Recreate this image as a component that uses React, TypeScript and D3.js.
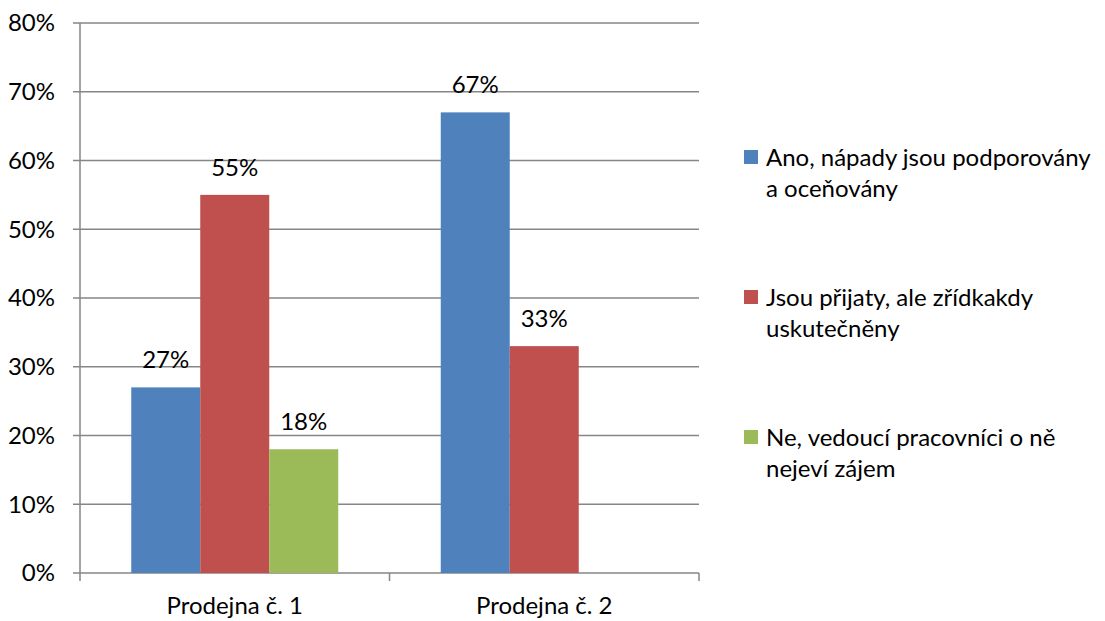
import React from "react";
import * as d3 from "d3";

const categories = ["Prodejna č. 1", "Prodejna č. 2"];
const seriesNames = [
  ["Ano, nápady jsou podporovány", "a oceňovány"],
  ["Jsou přijaty, ale zřídkakdy", "uskutečněny"],
  ["Ne, vedoucí pracovníci o ně", "nejeví zájem"],
];
const seriesColors = ["#4F81BD", "#C0504D", "#9BBB59"];
// values per series, one entry per category (null = no bar)
const seriesValues: (number | null)[][] = [
  [27, 67],
  [55, 33],
  [18, null],
];
const yTicks = [0, 10, 20, 30, 40, 50, 60, 70, 80];

const W = 1105;
const H = 621;
const left = 80;
const right = 699;
const top = 23;
const bottom = 573;
const font = "Lato, 'Open Sans', sans-serif";
const fs = 24;

export default function App() {
  const y = d3.scaleLinear().domain([0, 80]).range([bottom, top]);
  const x = d3.scaleBand().domain(categories).range([left, right]);
  const barW = 69;
  const inner = d3
    .scaleBand()
    .domain(seriesNames.map((_, i) => String(i)))
    .range([0, barW * 3]);

  return (
    <svg width={W} height={H} style={{ position: "absolute", left: 0, top: 0 }}>
      <rect width={W} height={H} fill="#fff" />
      {yTicks.map((t) => (
        <g key={t}>
          <line x1={left - 7} x2={right} y1={y(t)} y2={y(t)} stroke="#868686" strokeWidth={1.5} />
          <text x={left - 25} y={y(t)} dy="0.35em" textAnchor="end" fontFamily={font} fontSize={fs} fill="#000">
            {t}%
          </text>
        </g>
      ))}
      <line x1={left} x2={left} y1={top} y2={bottom} stroke="#868686" strokeWidth={1.5} />
      {[left, ...categories.map((c) => (x(c) as number) + x.bandwidth())].map((px, i) => (
        <line key={i} x1={px} x2={px} y1={bottom} y2={bottom + 8} stroke="#868686" strokeWidth={1.5} />
      ))}
      {categories.map((c, ci) => {
        const cx = (x(c) as number) + x.bandwidth() / 2;
        const start = cx - (barW * 3) / 2;
        return (
          <g key={c}>
            {seriesValues.map((vals, si) => {
              const v = vals[ci];
              if (v == null) return null;
              const bx = start + (inner(String(si)) as number);
              return (
                <g key={si}>
                  <rect x={bx} y={y(v)} width={inner.bandwidth()} height={bottom - y(v)} fill={seriesColors[si]} />
                  <text x={bx + inner.bandwidth() / 2} y={y(v) - 19} textAnchor="middle" fontFamily={font} fontSize={fs} fill="#000">
                    {v}%
                  </text>
                </g>
              );
            })}
            <text x={cx} y={614} textAnchor="middle" fontFamily={font} fontSize={fs} fill="#000">
              {c}
            </text>
          </g>
        );
      })}
      {seriesNames.map((lines, i) => {
        const y0 = 158 + i * 140;
        return (
          <g key={i}>
            <rect x={744} y={y0 - 8} width={14} height={14} fill={seriesColors[i]} />
            {lines.map((ln, li) => (
              <text key={li} x={766} y={y0 + li * 31} dy="0.35em" fontFamily={font} fontSize={fs} fill="#000">
                {ln}
              </text>
            ))}
          </g>
        );
      })}
    </svg>
  );
}
